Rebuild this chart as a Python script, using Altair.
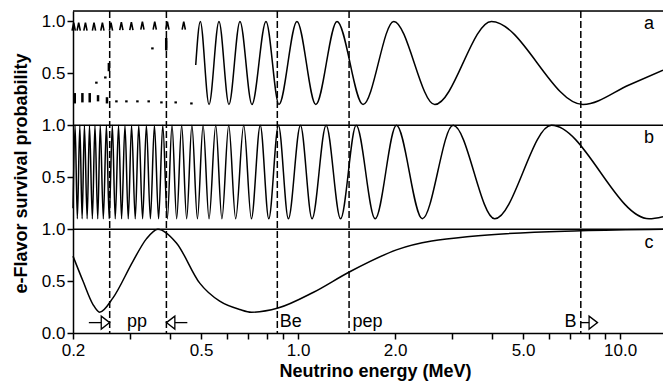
import altair as alt
import pandas as pd

FONT = "Liberation Sans"

# ---------------- axes ----------------
x_tick_values = [0.2, 0.3, 0.4, 0.5, 0.6, 0.7, 0.8, 0.9, 1, 2, 3, 4, 5, 6, 7, 8, 9, 10]
x_label_values = [0.2, 0.5, 1, 2, 5, 10]
y_tick_values = [0, 0.5, 1, 1.5, 2, 2.5, 3]
x_domain = [0.2, 13.59]
y_domain = [0, 3.1]

# panel offsets (a on top, b middle, c bottom)
offset_a, offset_b, offset_c = 2, 1, 0

# ---------------- panel a ----------------
a_E = [0.481, 0.497, 0.529, 0.568, 0.610, 0.660, 0.719, 0.795, 0.872, 0.992, 1.135, 1.321,
       1.591, 1.982, 2.657, 3.985, 7.67, 10.7, 13.59]
a_P = [0.58, 1.0, 0.2, 1.0, 0.2, 1.0, 0.2, 1.0, 0.2, 1.0, 0.2, 1.0,
       0.2, 1.0, 0.2, 1.0, 0.2, 0.39, 0.53]

# aliased (dotted) low-energy part of panel a
a_top_E = [0.2010, 0.2083, 0.2186, 0.2324, 0.2468, 0.2624, 0.2826, 0.3036, 0.3285, 0.3588, 0.3928, 0.4415]
a_top_P = [0.95, 0.95, 0.95, 0.95, 0.95, 0.95, 0.955, 0.955, 0.96, 0.96, 0.96, 0.96]
a_bot_E = [0.2025, 0.2139, 0.2254, 0.2392, 0.2550, 0.2728, 0.2930, 0.3170, 0.3436, 0.3764, 0.4168, 0.4664]
a_bot_lo = [0.21, 0.22, 0.22, 0.23, 0.21, 0.22, 0.22, 0.22, 0.22, 0.21, 0.21, 0.20]
a_bot_hi = [0.31, 0.31, 0.31, 0.29, 0.27, 0.24, 0.24, 0.24, 0.24, 0.23, 0.23, 0.22]
a_mid_E = [0.2364, 0.2520, 0.2585, 0.3529, 0.3895]
a_mid_lo = [0.40, 0.45, 0.52, 0.73, 0.72]
a_mid_hi = [0.42, 0.47, 0.60, 0.75, 0.84]

# ---------------- panel b ----------------
b_max, b_min = 1.0, 0.1
b_peaks = [0.203, 0.210, 0.217, 0.225, 0.234, 0.243, 0.254, 0.265, 0.277, 0.290, 0.304, 0.320,
           0.338, 0.358, 0.380, 0.406, 0.435, 0.468, 0.507, 0.555, 0.609, 0.678, 0.763, 0.869,
           1.017, 1.222, 1.515, 2.02, 3.03, 6.12]
b_troughs = [0.2063, 0.2135, 0.2213, 0.2297, 0.2387, 0.2484, 0.2590, 0.2705, 0.2831, 0.2969,
             0.3121, 0.3290, 0.3478, 0.3688, 0.3926, 0.4197, 0.4508, 0.4869, 0.529, 0.580,
             0.640, 0.716, 0.811, 0.933, 1.105, 1.355, 1.735, 2.43, 4.08, 12.3]
b_ends_E = [0.2, 13.59]
b_ends_P = [0.2, 0.12]

# ---------------- panel c ----------------
c_E = [0.2, 0.2148, 0.2308, 0.242, 0.2662, 0.307, 0.338, 0.367, 0.419, 0.495, 0.571, 0.659,
       0.716, 0.866, 1.113, 1.447, 2.02, 3.41, 7.55, 13.59]
c_P = [0.74, 0.50, 0.274, 0.20, 0.338, 0.69, 0.906, 1.0, 0.867, 0.48, 0.306, 0.226,
       0.20, 0.24, 0.39, 0.59, 0.80, 0.93, 0.985, 1.0]

# ---------------- annotations ----------------
dashed_E = [0.26, 0.39, 0.862, 1.44, 7.55]
sep_levels = [1, 2, 3.1]
panel_labels = ["a", "b", "c"]
panel_label_E = [12.3, 12.3, 12.3]
panel_label_Y = [2.925, 1.829, 0.819]
text_center = ["pp"]
text_center_E = [0.316]
text_left = ["Be", "pep"]
text_left_E = [0.877, 1.475]
text_right = ["B"]
text_right_E = [7.32]
ann_Y = 0.06
arrow_Y = 0.1
arrow_tail_E = [0.224, 0.453, 7.55]
arrow_tip_E = [0.26, 0.39, 8.51]

# ---------------- tables ----------------
a_df = pd.DataFrame({"E": a_E, "P": a_P})
b_df = pd.DataFrame({
    "E": b_peaks + b_troughs + b_ends_E,
    "P": [b_max] * len(b_peaks) + [b_min] * len(b_troughs) + b_ends_P,
}).sort_values("E")
c_df = pd.DataFrame({"E": c_E, "P": c_P})
a_top_df = pd.DataFrame({"E": a_top_E, "P": a_top_P})
a_dots_df = pd.DataFrame({"E": a_bot_E + a_mid_E, "lo": a_bot_lo + a_mid_lo, "hi": a_bot_hi + a_mid_hi})
dash_df = pd.DataFrame({"E": dashed_E})
sep_df = pd.DataFrame({"Y": sep_levels})
plab_df = pd.DataFrame({"E": panel_label_E, "Y": panel_label_Y, "t": panel_labels})
tc_df = pd.DataFrame({"E": text_center_E, "Y": [ann_Y] * len(text_center), "t": text_center})
tl_df = pd.DataFrame({"E": text_left_E, "Y": [ann_Y] * len(text_left), "t": text_left})
tr_df = pd.DataFrame({"E": text_right_E, "Y": [ann_Y] * len(text_right), "t": text_right})
arrow_df = pd.DataFrame({"E": arrow_tail_E, "E2": arrow_tip_E, "Y": [arrow_Y] * 3})
tipR_df = pd.DataFrame({"E": [arrow_tip_E[0], arrow_tip_E[2]], "Y": [arrow_Y] * 2})
tipL_df = pd.DataFrame({"E": [arrow_tip_E[1]], "Y": [arrow_Y]})

# ---------------- scales / axes ----------------
x_scale = alt.Scale(type="log", domain=x_domain, nice=False)
y_scale = alt.Scale(domain=y_domain, nice=False, zero=False)

lbl_list = ",".join(str(v) for v in x_label_values)
x_axis = alt.Axis(
    values=x_tick_values,
    labelExpr=f"indexof([{lbl_list}], datum.value) >= 0 ? format(datum.value, '.1f') : ''",
    title="Neutrino energy (MeV)", titleFont=FONT, titleFontSize=18, titleFontWeight="bold",
    titleColor="black", titleBaseline="alphabetic", titleX=302, titleY=43,
    labelFont=FONT, labelFontSize=17, labelColor="black", labelFlush=False, labelOverlap=False,
    labelPadding=3, tickSize=6, tickWidth=1.5, tickColor="black",
    domainWidth=1.5, domainColor="black", grid=False,
)
y_axis = alt.Axis(
    values=y_tick_values,
    labelExpr="datum.value == 0 ? '0.0' : (datum.value % 1 == 0 ? '1.0' : '0.5')",
    title="e-Flavor survival probability", titleFont=FONT, titleFontSize=18, titleFontWeight="bold",
    titleColor="black", titleBaseline="alphabetic", titleX=-47, titleY=162,
    labelFont=FONT, labelFontSize=17, labelColor="black", labelFlush=False, labelOverlap=False,
    labelPadding=2, tickSize=6, tickWidth=1.5, tickColor="black",
    domainWidth=1.5, domainColor="black", grid=False,
)

def X(field="E"):
    return alt.X(f"{field}:Q", scale=x_scale, axis=x_axis)

def Y(field="Y"):
    return alt.Y(f"{field}:Q", scale=y_scale, axis=y_axis)

line_style = dict(color="black", strokeWidth=1.5, interpolate="monotone")

c_line = alt.Chart(c_df).transform_calculate(Y=f"datum.P + {offset_c}").mark_line(**line_style).encode(
    x=X(), y=Y())
b_line = alt.Chart(b_df).transform_calculate(Y=f"datum.P + {offset_b}").mark_line(
    color="black", strokeWidth=1.5, interpolate="monotone").encode(x=X(), y=Y())
a_line = alt.Chart(a_df).transform_calculate(Y=f"datum.P + {offset_a}").mark_line(**line_style).encode(
    x=X(), y=Y())

a_top = alt.Chart(a_top_df).transform_calculate(Y=f"datum.P + {offset_a}").mark_point(
    shape="M-0.4,1L0,-1L0.4,1", filled=False, stroke="black", strokeWidth=1.6, size=64, opacity=1
).encode(x=X(), y=Y())
a_dots = alt.Chart(a_dots_df).transform_calculate(
    lo=f"datum.lo + {offset_a}", hi=f"datum.hi + {offset_a}"
).mark_rule(color="black", strokeWidth=2.5).encode(
    x=X(), y=Y("lo"), y2=alt.Y2("hi:Q"))

seps = alt.Chart(sep_df).mark_rule(color="black", strokeWidth=1.5).encode(y=Y())
dashes = alt.Chart(dash_df).mark_rule(color="black", strokeWidth=1.5, strokeDash=[7, 3]).encode(x=X())

txt_style = dict(font=FONT, fontSize=18, color="black", baseline="alphabetic")
plabs = alt.Chart(plab_df).mark_text(align="center", **txt_style).encode(x=X(), y=Y(), text="t:N")
tc = alt.Chart(tc_df).mark_text(align="center", **txt_style).encode(x=X(), y=Y(), text="t:N")
tl = alt.Chart(tl_df).mark_text(align="left", **txt_style).encode(x=X(), y=Y(), text="t:N")
tr = alt.Chart(tr_df).mark_text(align="right", **txt_style).encode(x=X(), y=Y(), text="t:N")

arrows = alt.Chart(arrow_df).mark_rule(color="black", strokeWidth=1.3).encode(
    x=X(), x2=alt.X2("E2:Q"), y=Y())
tipsR = alt.Chart(tipR_df).mark_point(
    shape="M0,0L-1.3,-1L-1.3,1Z", filled=True, fill="white", stroke="black", strokeWidth=1.3,
    size=169, opacity=1).encode(x=X(), y=Y())
tipsL = alt.Chart(tipL_df).mark_point(
    shape="M0,0L1.3,-1L1.3,1Z", filled=True, fill="white", stroke="black", strokeWidth=1.3,
    size=169, opacity=1).encode(x=X(), y=Y())

chart = alt.layer(
    c_line, b_line, a_line, a_top, a_dots, seps, dashes, plabs, tc, tl, tr, arrows, tipsR, tipsL
).properties(
    width=590, height=322,
    autosize=alt.AutoSizeParams(type="none"),
    padding={"left": 65, "top": 3, "right": 0, "bottom": 49},
).configure_view(stroke=None).configure(background="white")

chart.save("out.html", embed_options={"renderer": "svg", "actions": False})
